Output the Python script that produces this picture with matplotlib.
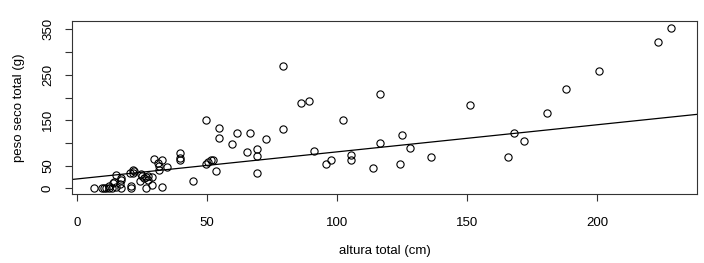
import numpy as np
import matplotlib.pyplot as plt

plt.rcParams['font.family'] = ['Liberation Sans', 'DejaVu Sans']

# altura total (cm) vs peso seco total (g)
altura = [6.7, 9.7, 10.4, 11.2, 12.2, 12.5, 13.6, 13.8, 14.3, 15.0, 15.2, 16.7,
          16.9, 16.9, 16.9, 20.8, 20.8, 20.5, 21.6, 22.0, 21.6, 24.3, 24.6, 25.2,
          25.8, 26.5, 27.4, 26.7, 27.2, 28.8, 28.8, 29.7, 31.0, 31.6, 31.6, 32.6,
          32.9, 34.8, 39.7, 39.7, 39.7, 44.7, 49.5, 49.5, 50.5, 51.5, 52.4, 53.6,
          54.6, 54.6, 59.5, 61.4, 65.4, 66.5, 69.4, 69.4, 69.4, 72.9, 79.2, 79.2,
          86.3, 89.3, 91.3, 95.9, 97.6, 102.5, 105.6, 105.6, 114.0, 116.4, 116.4,
          124.3, 125.2, 128.2, 136.2, 151.2, 166.0, 168.0, 172.0, 181.0, 188.0,
          200.7, 223.6, 228.7]
peso = [0, 0, 0, 0, 5, 0, 0, 12, 14.5, 3.5, 29, 9.5,
        0, 18, 23, 5, 0, 34, 40, 38, 34, 16, 31, 27,
        22, 26, 28, 2, 19, 25.5, 7, 64, 55, 49, 40, 62,
        3.5, 47.5, 78, 68, 62, 17, 150, 53.5, 58, 62, 63, 39,
        134, 111, 97.5, 123, 80, 123, 86.5, 71, 33.7, 108.5, 270, 130.5,
        189, 192, 82, 53.5, 61.6, 151, 72.6, 62.3, 46, 208, 99.7,
        53.5, 117, 88.7, 69, 184, 69, 121, 103.5, 166, 219,
        258, 323, 354]

# fitted line shown in the chart
intercepto = 20.9
inclinacao = 0.596

fig = plt.figure(figsize=(7.04, 2.63), dpi=100)
ax = fig.add_axes([0.1023, 0.261, 0.8877, 0.660])

ax.plot(altura, peso, 'o', mfc='none', mec='black', ms=5.2, mew=0.8)
ax.axline((0, intercepto), slope=inclinacao, color='black', lw=0.9)

ax.set_xlim(-1.9, 238.5)
ax.set_ylim(-13, 369)
ax.set_xticks([0, 50, 100, 150, 200])
ax.set_yticks(np.arange(0, 351, 50))
ax.set_yticklabels(['0', '50', '', '150', '', '250', '', '350'], rotation=90, va='center')

for s in ax.spines.values():
    s.set_linewidth(0.8)
    s.set_color('#333333')
ax.tick_params(direction='out', length=5, width=0.8, labelsize=9.5, color='#333333')
ax.tick_params(axis='x', pad=11)
ax.tick_params(axis='y', pad=8)

ax.set_xlabel('altura total (cm)', fontsize=9.5, labelpad=12)
ax.set_ylabel('peso seco total (g)', fontsize=9.5, labelpad=12)

fig.savefig('out.png', dpi=100)
